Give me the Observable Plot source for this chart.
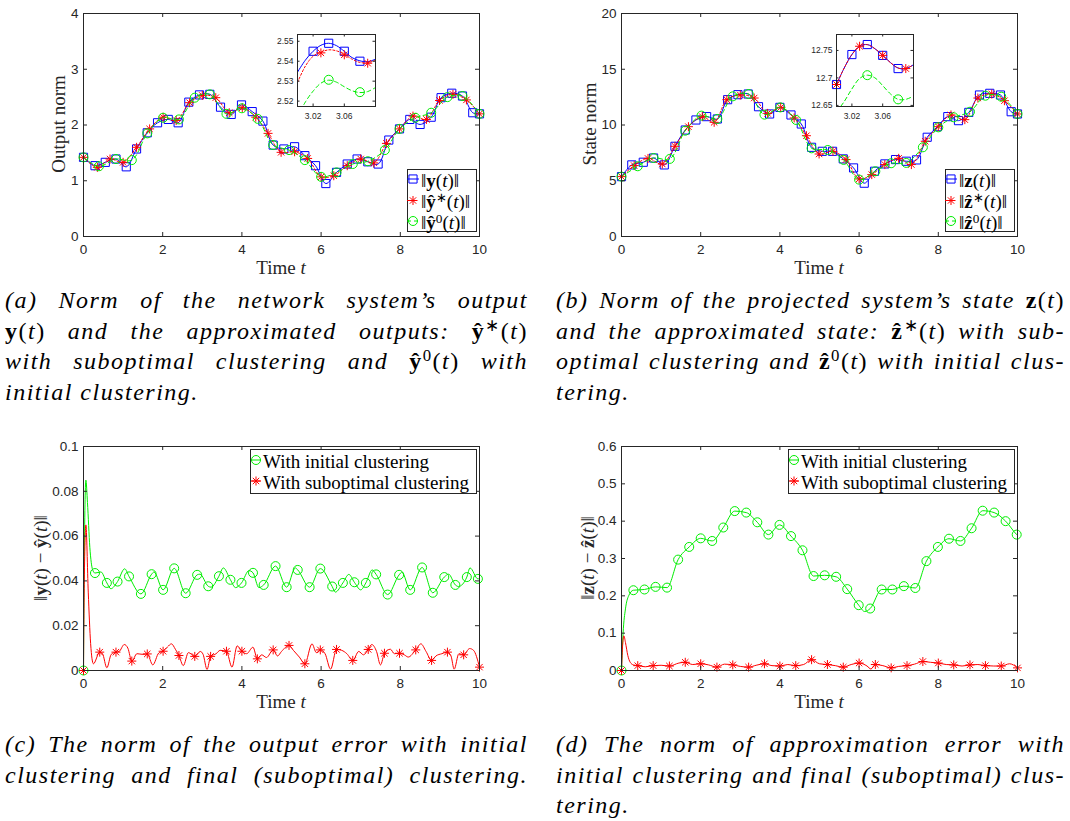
<!DOCTYPE html>
<html><head><meta charset="utf-8">
<script src="https://cdn.jsdelivr.net/npm/d3@7"></script>
<script src="https://cdn.jsdelivr.net/npm/@observablehq/plot@0.6"></script>
<style>
html,body{margin:0;padding:0;background:#fff;}
#root{position:relative;width:1070px;height:821px;overflow:hidden;background:#fff;}
#root svg{position:absolute;display:block;overflow:visible;}
.lab{position:absolute;font-family:"Liberation Serif","Times New Roman",serif;font-size:19px;color:#262626;white-space:nowrap;line-height:1;}
.leg{position:absolute;background:#fff;border:1px solid #262626;box-sizing:border-box;}
.legt{position:absolute;font-family:"Liberation Serif","Times New Roman",serif;font-size:19px;color:#000;white-space:nowrap;line-height:1;transform:translateY(-50%);}
.cap{position:absolute;font-family:"Liberation Serif","Times New Roman",serif;font-style:italic;font-size:24px;letter-spacing:1.5px;color:#000;}
.cap .ln{position:absolute;left:0;right:0;line-height:24px;text-align:justify;text-align-last:justify;}
.cap .ln.last{text-align-last:left;}
.u{font-style:normal;}
b{font-style:normal;font-weight:bold;}
sup{font-size:0.7em;line-height:0;vertical-align:0.45em;font-style:normal;}
</style></head><body><div id="root"></div>
<script>
// ---------------- DATA ----------------
// (a) output norm
const aBlueT = [0,0.29,0.55,0.82,1.08,1.34,1.61,1.87,2.14,2.39,2.66,2.93,3.19,3.46,3.73,3.99,4.26,4.53,4.79,5.06,5.33,5.59,5.86,6.12,6.39,6.66,6.91,7.18,7.44,7.71,7.98,8.24,8.50,8.78,9.03,9.30,9.57,9.83,10];
const aBlueV = [1.42,1.27,1.33,1.39,1.25,1.57,1.86,2.04,2.10,2.04,2.41,2.54,2.55,2.32,2.19,2.36,2.24,2.07,1.64,1.57,1.61,1.45,1.27,0.95,1.15,1.30,1.39,1.34,1.30,1.73,1.93,2.10,2.01,2.14,2.49,2.57,2.52,2.22,2.20];
const aRedT = [0,0.35,0.67,1.0,1.34,1.67,2.01,2.34,2.68,3.0,3.34,3.68,4.01,4.35,4.66,4.99,5.33,5.66,6.0,6.32,6.66,7.0,7.33,7.65,7.98,8.32,8.66,8.99,9.33,9.67,10];
const aRedV = [1.42,1.24,1.39,1.33,1.60,1.93,2.14,2.08,2.40,2.53,2.49,2.22,2.31,2.14,1.85,1.51,1.52,1.40,1.07,1.09,1.27,1.39,1.32,1.67,1.93,2.16,2.10,2.44,2.55,2.45,2.20];
const aGreenT = [0,0.39,0.82,1.22,1.61,2.01,2.41,2.81,3.19,3.61,4.0,4.40,4.79,5.19,5.59,6.0,6.39,6.8,7.18,7.61,7.98,8.38,8.78,9.19,9.57,10];
const aGreenV = [1.42,1.26,1.39,1.37,1.85,2.13,2.10,2.49,2.55,2.20,2.30,2.11,1.64,1.55,1.37,1.07,1.15,1.30,1.35,1.55,1.93,2.13,2.22,2.50,2.52,2.20];
// (a) inset
const iaT = [3.0,3.01,3.02,3.03,3.04,3.05,3.06,3.07,3.08,3.09,3.1];
const iaBlueV = [2.5345,2.5405,2.545,2.548,2.549,2.5478,2.545,2.5418,2.5402,2.5398,2.541];
const iaRedV = [2.5293,2.5375,2.5425,2.5445,2.5457,2.5452,2.5435,2.541,2.5394,2.5392,2.5405];
const iaGreenV = [2.512,2.5195,2.525,2.529,2.5305,2.5295,2.5272,2.5252,2.5243,2.5248,2.5268];
const iaBlueMarks = [[3.02,2.545],[3.04,2.549],[3.06,2.545],[3.08,2.540]];
const iaRedMarks = [[3.03,2.5442],[3.06,2.5432],[3.09,2.539]];
const iaGreenMarks = [[3.04,2.5307],[3.08,2.5245]];
// (b) state norm
const bBlueT = [0,0.26,0.55,0.81,1.08,1.35,1.61,1.88,2.15,2.42,2.68,2.94,3.2,3.46,3.74,4.0,4.28,4.54,4.8,5.07,5.33,5.6,5.86,6.13,6.39,6.65,6.92,7.19,7.45,7.72,7.98,8.24,8.51,8.77,9.04,9.3,9.57,9.84,10];
const bBlueV = [5.37,6.42,6.66,7.04,6.42,8.09,9.55,10.45,10.75,10.54,12.27,12.72,12.78,11.64,10.99,11.58,10.9,10.09,8.0,7.64,7.64,6.96,6.15,4.78,5.85,6.51,6.9,6.75,6.87,8.9,9.85,10.75,10.39,11.13,12.69,12.84,12.69,11.19,10.99];
const bRedT = [0,0.32,0.67,1.03,1.35,1.69,2.04,2.34,2.66,3.0,3.35,3.69,4.02,4.36,4.67,4.99,5.34,5.67,6.0,6.32,6.65,7.0,7.32,7.67,8.0,8.32,8.67,9.0,9.35,9.67,10];
const bRedV = [5.37,6.36,7.0,6.5,8.09,9.85,10.75,10.24,12.27,12.69,12.42,11.04,11.58,10.63,9.04,7.4,7.64,6.9,5.16,5.55,6.45,7.01,6.45,8.54,9.85,10.9,10.48,12.42,12.78,12.18,10.99];
const bGreenT = [0,0.41,0.81,1.22,1.61,2.02,2.42,2.81,3.21,3.61,4.01,4.41,4.8,5.21,5.61,6.0,6.41,6.81,7.19,7.61,8.0,8.39,8.8,9.19,9.59,10];
const bGreenV = [5.37,6.3,7.04,6.96,9.49,10.84,10.54,12.57,12.78,10.93,11.58,10.45,7.91,7.76,6.87,5.1,5.85,6.57,6.6,8.0,9.79,10.69,11.19,12.63,12.54,10.99];
// (b) inset
const ibT = [3.0,3.01,3.02,3.03,3.04,3.05,3.06,3.07,3.08,3.09,3.1];
const ibBlueV = [12.688,12.718,12.7425,12.7576,12.7607,12.753,12.741,12.728,12.718,12.717,12.724];
const ibRedV = [12.688,12.718,12.7425,12.7578,12.7605,12.753,12.741,12.728,12.718,12.717,12.724];
const ibGreenV = [12.638,12.657,12.68,12.699,12.705,12.700,12.686,12.671,12.661,12.661,12.667];
const ibBlueMarks = [[3.0,12.688],[3.02,12.7425],[3.04,12.7607],[3.06,12.741],[3.08,12.717]];
const ibRedMarks = [[3.0,12.688],[3.03,12.7576],[3.06,12.741],[3.09,12.717]];
const ibGreenMarks = [[3.04,12.705],[3.08,12.661]];
// (c) output error
const cGreenLine = [[0,0],[0.02,0.05],[0.06,0.085],[0.1,0.075],[0.16,0.055],[0.23,0.045],[0.29,0.0435],[0.44,0.044],[0.59,0.0391],[0.69,0.0365],[0.86,0.0397],[1.04,0.0454],[1.15,0.0420],[1.45,0.0342],[1.72,0.0430],[1.78,0.0440],[2.01,0.0360],[2.29,0.0456],[2.58,0.0345],[2.87,0.0427],[2.94,0.0430],[3.15,0.0376],[3.22,0.0372],[3.42,0.0421],[3.53,0.0458],[3.71,0.0405],[3.84,0.0370],[3.99,0.0391],[4.18,0.0446],[4.28,0.0436],[4.43,0.0370],[4.55,0.0382],[4.85,0.0466],[5.13,0.0372],[5.35,0.0458],[5.41,0.0449],[5.71,0.0372],[5.98,0.0455],[6.28,0.0375],[6.36,0.0350],[6.55,0.0391],[6.70,0.0429],[6.84,0.0394],[7.00,0.0360],[7.13,0.0391],[7.29,0.0449],[7.39,0.0429],[7.68,0.0339],[7.97,0.0427],[8.04,0.0439],[8.25,0.0360],[8.55,0.0460],[8.82,0.0347],[9.11,0.0417],[9.22,0.0430],[9.39,0.0382],[9.47,0.0375],[9.68,0.0417],[9.76,0.0458],[9.96,0.0409],[10,0.041]];
const cGreenMarks = [[0,0],[0.29,0.0435],[0.59,0.0391],[0.86,0.0397],[1.15,0.0420],[1.45,0.0342],[1.72,0.0430],[2.01,0.0360],[2.29,0.0456],[2.58,0.0345],[2.87,0.0427],[3.15,0.0376],[3.42,0.0421],[3.71,0.0405],[3.99,0.0391],[4.28,0.0436],[4.55,0.0382],[4.85,0.0466],[5.13,0.0372],[5.41,0.0449],[5.71,0.0372],[5.98,0.0455],[6.28,0.0375],[6.55,0.0391],[6.84,0.0394],[7.13,0.0391],[7.39,0.0429],[7.68,0.0339],[7.97,0.0427],[8.25,0.0360],[8.55,0.0460],[8.82,0.0347],[9.11,0.0417],[9.39,0.0382],[9.68,0.0417],[9.96,0.0409]];
const cRedLine = [[0,0],[0.02,0.04],[0.06,0.065],[0.12,0.035],[0.18,0.012],[0.25,0.003],[0.41,0.0082],[0.48,0.0075],[0.59,0.0012],[0.7,0.0072],[0.82,0.0082],[0.9,0.0085],[1.03,0.0116],[1.12,0.010],[1.22,0.0042],[1.35,0.0075],[1.5,0.0072],[1.61,0.0074],[1.75,0.0025],[1.9,0.0078],[2.01,0.0086],[2.12,0.0105],[2.22,0.0119],[2.32,0.0095],[2.41,0.0067],[2.52,0.0022],[2.65,0.0080],[2.81,0.0063],[2.95,0.0085],[3.02,0.0072],[3.12,0.0005],[3.21,0.0063],[3.35,0.0075],[3.45,0.0090],[3.61,0.0086],[3.75,0.0015],[3.88,0.0110],[4.0,0.0086],[4.12,0.0075],[4.28,0.0104],[4.39,0.0052],[4.5,0.0070],[4.62,0.0058],[4.79,0.0092],[4.9,0.0065],[5.0,0.0085],[5.19,0.0112],[5.3,0.0090],[5.45,0.0060],[5.59,0.0030],[5.77,0.0119],[5.88,0.0080],[5.98,0.0092],[6.1,0.0075],[6.24,0.0006],[6.39,0.0094],[6.52,0.0090],[6.65,0.0075],[6.8,0.0045],[6.95,0.0085],[7.07,0.0070],[7.19,0.0094],[7.28,0.0116],[7.4,0.0085],[7.5,0.0025],[7.6,0.0077],[7.75,0.0095],[7.85,0.0075],[7.98,0.0077],[8.1,0.0070],[8.2,0.0060],[8.39,0.0092],[8.52,0.0119],[8.65,0.0085],[8.79,0.0045],[8.9,0.0065],[9.05,0.0075],[9.19,0.0082],[9.28,0.0065],[9.36,0.0006],[9.48,0.0075],[9.6,0.0070],[9.75,0.0098],[9.85,0.0090],[10,0.0015]];
const cRedMarks = [[0,0],[0.41,0.0082],[0.82,0.0082],[1.22,0.0042],[1.61,0.0074],[2.01,0.0086],[2.41,0.0067],[2.81,0.0063],[3.21,0.0063],[3.61,0.0086],[4.0,0.0086],[4.39,0.0052],[4.79,0.0092],[5.19,0.0112],[5.59,0.003],[5.98,0.0092],[6.39,0.0094],[6.8,0.0045],[7.19,0.0094],[7.6,0.0077],[7.98,0.0077],[8.39,0.0092],[8.79,0.0045],[9.19,0.0082],[9.6,0.0070],[10,0.0015]];
// (d) approximation error
const dGreenLine = [[0,0],[0.04,0.1],[0.1,0.165],[0.18,0.2],[0.30,0.215],[0.58,0.217],[0.86,0.224],[1.15,0.222],[1.43,0.297],[1.71,0.331],[2.0,0.354],[2.29,0.347],[2.57,0.383],[2.86,0.427],[3.15,0.423],[3.43,0.397],[3.71,0.364],[3.99,0.390],[4.28,0.360],[4.57,0.322],[4.85,0.253],[5.13,0.255],[5.42,0.251],[5.70,0.218],[5.99,0.175],[6.14,0.158],[6.28,0.166],[6.57,0.217],[6.84,0.217],[7.13,0.226],[7.42,0.221],[7.70,0.293],[7.99,0.331],[8.27,0.353],[8.56,0.347],[8.84,0.381],[9.12,0.428],[9.41,0.423],[9.70,0.400],[9.98,0.364],[10,0.362]];
const dGreenMarks = [[0,0],[0.30,0.215],[0.58,0.217],[0.86,0.224],[1.15,0.222],[1.43,0.297],[1.71,0.331],[2.0,0.354],[2.29,0.347],[2.57,0.383],[2.86,0.427],[3.15,0.423],[3.43,0.397],[3.71,0.364],[3.99,0.390],[4.28,0.360],[4.57,0.322],[4.85,0.253],[5.13,0.255],[5.42,0.251],[5.70,0.218],[5.99,0.175],[6.28,0.166],[6.57,0.217],[6.84,0.217],[7.13,0.226],[7.42,0.221],[7.70,0.293],[7.99,0.331],[8.27,0.353],[8.56,0.347],[8.84,0.381],[9.12,0.428],[9.41,0.423],[9.70,0.400],[9.98,0.364]];
const dRedLine = [[0,0],[0.03,0.07],[0.06,0.093],[0.1,0.075],[0.16,0.04],[0.22,0.022],[0.3,0.015],[0.41,0.013],[0.6,0.010],[0.80,0.013],[1.0,0.014],[1.21,0.012],[1.45,0.020],[1.61,0.022],[1.8,0.016],[2.0,0.018],[2.2,0.015],[2.41,0.009],[2.6,0.017],[2.81,0.015],[3.0,0.011],[3.21,0.009],[3.4,0.014],[3.61,0.018],[3.8,0.013],[4.0,0.012],[4.2,0.016],[4.4,0.013],[4.6,0.016],[4.8,0.029],[5.0,0.018],[5.2,0.016],[5.4,0.013],[5.6,0.009],[5.8,0.016],[6.0,0.020],[6.2,0.012],[6.3,0.004],[6.41,0.016],[6.6,0.013],[6.81,0.007],[7.0,0.011],[7.21,0.013],[7.4,0.017],[7.61,0.024],[7.8,0.022],[8.0,0.020],[8.2,0.016],[8.39,0.015],[8.6,0.012],[8.8,0.015],[9.0,0.016],[9.19,0.013],[9.4,0.012],[9.59,0.012],[9.8,0.018],[10,0.007]];
const dRedMarks = [[0,0],[0.41,0.013],[0.80,0.013],[1.21,0.012],[1.61,0.022],[2.0,0.018],[2.41,0.009],[2.81,0.015],[3.21,0.009],[3.61,0.018],[4.0,0.012],[4.4,0.013],[4.8,0.029],[5.2,0.016],[5.6,0.009],[6.0,0.020],[6.41,0.016],[6.81,0.007],[7.21,0.013],[7.61,0.024],[8.0,0.020],[8.39,0.015],[8.8,0.015],[9.19,0.013],[9.59,0.012],[10,0.007]];
// ticks
const xTicks = [0,2,4,6,8,10];
const aYTicks = [0,1,2,3,4];
const bYTicks = [0,5,10,15,20];
const cYTicks = [0,0.02,0.04,0.06,0.08,0.1];
const dYTicks = [0,0.1,0.2,0.3,0.4,0.5,0.6];
const insXTicks = [3.02,3.06];
const iaYTicks = [2.52,2.53,2.54,2.55];
const ibYTicks = [12.65,12.7,12.75];

// ---------------- DRAWING ----------------
const root = document.getElementById("root");
const AX = "#262626", BLUE = "#0000ff", RED = "#ff0000", GREEN = "#00ee00";
const star = {draw(ctx, size){const r=Math.sqrt(size/Math.PI), d=r*Math.SQRT1_2;
  ctx.moveTo(-r,0);ctx.lineTo(r,0);ctx.moveTo(0,-r);ctx.lineTo(0,r);
  ctx.moveTo(-d,-d);ctx.lineTo(d,d);ctx.moveTo(-d,d);ctx.lineTo(d,-d);}};
const zip = (T,V)=>T.map((t,i)=>({t, v:V[i]}));
const P = a => a.map(([t,v])=>({t,v}));
const fmt = d3.format("~g");

function series(line, marks, color, symbol, dash, o = {}) {
  return [
    Plot.line(line, {x:"t", y:"v", stroke:color, strokeWidth:o.lw ?? 1, strokeDasharray:dash, curve:o.curve ?? "catmull-rom", clip:o.clip}),
    Plot.dot(marks, {x:"t", y:"v", symbol, r:o.r ?? 4.5, stroke:color, strokeWidth:o.mw ?? 1, fill:"none"})
  ];
}

function panel(o) {
  const fw = o.fx1 - o.fx0, fh = o.fy1 - o.fy0, tl = o.tl;
  const marks = [];
  if (o.bg) marks.push(Plot.frame({fill:"white", stroke:"none"}));
  marks.push(...o.marks,
    Plot.tickX(o.xt, {x:d=>d, insetTop:fh - tl, stroke:AX, strokeWidth:1}),
    Plot.tickX(o.xt, {x:d=>d, insetBottom:fh - tl, stroke:AX, strokeWidth:1}),
    Plot.tickY(o.yt, {y:d=>d, insetRight:fw - tl, stroke:AX, strokeWidth:1}),
    Plot.tickY(o.yt, {y:d=>d, insetLeft:fw - tl, stroke:AX, strokeWidth:1}),
    Plot.frame({stroke:AX, strokeWidth:1}),
    Plot.axisX(o.xt, {anchor:"bottom", tickSize:0, tickPadding:o.px, tickFormat:fmt, label:null, fill:AX}),
    Plot.axisY(o.yt, {anchor:"left", tickSize:0, tickPadding:o.py, tickFormat:fmt, label:null, fill:AX})
  );
  const svg = Plot.plot({
    width:o.W, height:o.H,
    marginLeft:o.fx0, marginTop:o.fy0, marginRight:o.W - o.fx1, marginBottom:o.H - o.fy1,
    x:{domain:o.xd, label:null}, y:{domain:o.yd, label:null},
    style:{fontFamily:'"Liberation Sans", Arial, sans-serif', fontSize:o.fs + "px", color:AX, background:"transparent", overflow:"visible"},
    marks
  });
  svg.style.left = o.left + "px"; svg.style.top = o.top + "px";
  root.append(svg);
}

// Panel (a)
panel({left:0, top:0, W:540, H:280, fx0:83, fy0:13, fx1:479, fy1:236, xd:[0,10], yd:[0,4], xt:xTicks, yt:aYTicks, tl:4, fs:13.5, px:8, py:5,
  marks:[...series(zip(aBlueT,aBlueV), zip(aBlueT,aBlueV), BLUE, "square", null, {r:4.6}),
         ...series(zip(aRedT,aRedV), zip(aRedT,aRedV), RED, star, "2,2"),
         ...series(zip(aGreenT,aGreenV), zip(aGreenT,aGreenV), GREEN, "circle", "4,3")]});
// Panel (b)
panel({left:538, top:0, W:540, H:280, fx0:83, fy0:13, fx1:479, fy1:236, xd:[0,10], yd:[0,20], xt:xTicks, yt:bYTicks, tl:4, fs:13.5, px:8, py:5,
  marks:[...series(zip(bBlueT,bBlueV), zip(bBlueT,bBlueV), BLUE, "square", null, {r:4.6}),
         ...series(zip(bRedT,bRedV), zip(bRedT,bRedV), RED, star, "2,2"),
         ...series(zip(bGreenT,bGreenV), zip(bGreenT,bGreenV), GREEN, "circle", "4,3")]});
// Panel (c)
panel({left:0, top:430, W:540, H:290, fx0:83, fy0:16, fx1:479, fy1:240, xd:[0,10], yd:[0,0.1], xt:xTicks, yt:cYTicks, tl:4, fs:13.5, px:8, py:5,
  marks:[...series(P(cGreenLine), P(cGreenMarks), GREEN, "circle", null, {curve:"monotone-x"}),
         ...series(P(cRedLine), P(cRedMarks), RED, star, null, {curve:"monotone-x"})]});
// Panel (d)
panel({left:538, top:430, W:540, H:290, fx0:83, fy0:16, fx1:479, fy1:240, xd:[0,10], yd:[0,0.6], xt:xTicks, yt:dYTicks, tl:4, fs:13.5, px:8, py:5,
  marks:[...series(P(dGreenLine), P(dGreenMarks), GREEN, "circle", null, {curve:"monotone-x"}),
         ...series(P(dRedLine), P(dRedMarks), RED, star, null, {curve:"monotone-x"})]});
// Inset (a)
panel({left:250, top:24, W:135, H:100, fx0:47, fy0:10, fx1:125, fy1:82, xd:[3.0,3.1], yd:[2.5173,2.5534], xt:insXTicks, yt:iaYTicks, tl:2.5, fs:8.5, px:6, py:4, bg:true,
  marks:[...series(zip(iaT,iaBlueV), P(iaBlueMarks), BLUE, "square", null, {r:4.6, clip:true}),
         ...series(zip(iaT,iaRedV), P(iaRedMarks), RED, star, "2,2", {clip:true}),
         ...series(zip(iaT,iaGreenV), P(iaGreenMarks), GREEN, "circle", "4,3", {clip:true})]});
// Inset (b)
panel({left:788, top:24, W:135, H:100, fx0:48, fy0:10, fx1:125, fy1:82, xd:[3.0,3.1], yd:[12.648,12.779], xt:insXTicks, yt:ibYTicks, tl:2.5, fs:8.5, px:6, py:4, bg:true,
  marks:[...series(zip(ibT,ibBlueV), P(ibBlueMarks), BLUE, "square", null, {r:4.6, clip:true}),
         ...series(zip(ibT,ibRedV), P(ibRedMarks), RED, star, "2,2", {clip:true}),
         ...series(zip(ibT,ibGreenV), P(ibGreenMarks), GREEN, "circle", "4,3", {clip:true})]});

// ---------------- LEGENDS ----------------
function legend(box, rows) {
  const div = document.createElement("div");
  div.className = "leg";
  Object.assign(div.style, {left:box.left+"px", top:box.top+"px", width:box.w+"px", height:box.h+"px"});
  root.append(div);
  const svg = d3.create("svg").attr("width", 1070).attr("height", 821).style("left","0px").style("top","0px").style("pointer-events","none");
  for (const r of rows) {
    svg.append("line").attr("x1", r.x0).attr("x2", r.x1).attr("y1", r.y).attr("y2", r.y)
      .attr("stroke", r.color).attr("stroke-width", 1).attr("stroke-dasharray", r.dash || null);
    svg.append("path").attr("d", d3.symbol(r.symbol, Math.PI * r.r * r.r)())
      .attr("transform", `translate(${r.mx},${r.y})`).attr("fill","none").attr("stroke", r.color).attr("stroke-width", 1);
    const t = document.createElement("div");
    t.className = "legt"; t.innerHTML = r.html;
    Object.assign(t.style, {left:r.tx+"px", top:(r.y+0.5)+"px"});
    root.append(t);
  }
  root.append(svg.node());
}
const TT = '(<i>t</i>)';
function abLegend(dx, v) {
  legend({left:407+dx, top:169, w:70, h:63}, [
    {y:179, x0:407+dx, x1:419+dx, mx:413+dx, color:BLUE, symbol:d3.symbolSquare, r:4.6, dash:null, tx:421+dx, html:`‖<b>${v}</b>${TT}‖`},
    {y:200.5, x0:407+dx, x1:419+dx, mx:413+dx, color:RED, symbol:star, r:4.5, dash:"2,2", tx:421+dx, html:`‖<b>${v==="y"?"ŷ":"ẑ"}</b><sup>∗</sup>${TT}‖`},
    {y:221, x0:407+dx, x1:419+dx, mx:413+dx, color:GREEN, symbol:d3.symbolCircle, r:4.5, dash:"4,3", tx:421+dx, html:`‖<b>${v==="y"?"ŷ":"ẑ"}</b><sup>0</sup>${TT}‖`}
  ]);
}
abLegend(0, "y"); abLegend(538, "z");
function cdLegend(dx) {
  legend({left:250+dx, top:449, w:227, h:45}, [
    {y:460, x0:251+dx, x1:261+dx, mx:256+dx, color:GREEN, symbol:d3.symbolCircle, r:4.5, tx:263+dx, html:"With initial clustering"},
    {y:481, x0:251+dx, x1:261+dx, mx:256+dx, color:RED, symbol:star, r:4.5, tx:263+dx, html:"With suboptimal clustering"}
  ]);
}
cdLegend(0); cdLegend(538);

// ---------------- AXIS LABELS ----------------
function label(html, cx, cy, rot) {
  const d = document.createElement("div");
  d.className = "lab"; d.innerHTML = html;
  Object.assign(d.style, {left:cx+"px", top:cy+"px", transform:`translate(-50%,-50%)${rot ? " rotate(-90deg)" : ""}`});
  root.append(d);
}
label("Output norm", 58, 124, true);
label("State norm", 589, 124, true);
label(`‖<b>y</b>${TT} − <b>ŷ</b>${TT}‖`, 40, 558, true);
label(`‖<b>z</b>${TT} − <b>ẑ</b>${TT}‖`, 587, 558, true);
for (const [cx, cy] of [[281,267],[819,267],[281,701],[819,701]]) label("Time <i>t</i>", cx, cy, false);

// ---------------- CAPTIONS ----------------
const T = '<span class="u">(</span>t<span class="u">)</span>';
function caption(left, width, baselines, lines, lastJust) {
  const c = document.createElement("div");
  c.className = "cap";
  Object.assign(c.style, {left:left+"px", top:"0px", width:width+"px"});
  lines.forEach((h, i) => {
    const l = document.createElement("div");
    l.className = "ln" + (i === lines.length - 1 && !lastJust ? " last" : "");
    l.innerHTML = h;
    l.style.top = (baselines[i] - 20.1) + "px";
    c.append(l);
  });
  root.append(c);
}
caption(5, 523, [308, 339, 369.5, 400], [
  "(a) Norm of the network system’s output",
  `<b>y</b>${T} and the approximated outputs: <b>ŷ</b><sup>∗</sup>${T}`,
  `with suboptimal clustering and <b>ŷ</b><sup>0</sup>${T} with`,
  "initial clustering."
]);
caption(556, 509, [308, 339, 369.5, 400], [
  `(b) Norm of the projected system’s state <b>z</b>${T}`,
  `and the approximated state: <b>ẑ</b><sup>∗</sup>${T} with sub-`,
  `optimal clustering and <b>ẑ</b><sup>0</sup>${T} with initial clus-`,
  "tering."
]);
caption(5, 523, [752, 783], [
  "(c) The norm of the output error with initial",
  "clustering and final (suboptimal) clustering."
], true);
caption(556, 509, [752, 783, 813], [
  "(d) The norm of approximation error with",
  "initial clustering and final (suboptimal) clus-",
  "tering."
]);
</script></body></html>
